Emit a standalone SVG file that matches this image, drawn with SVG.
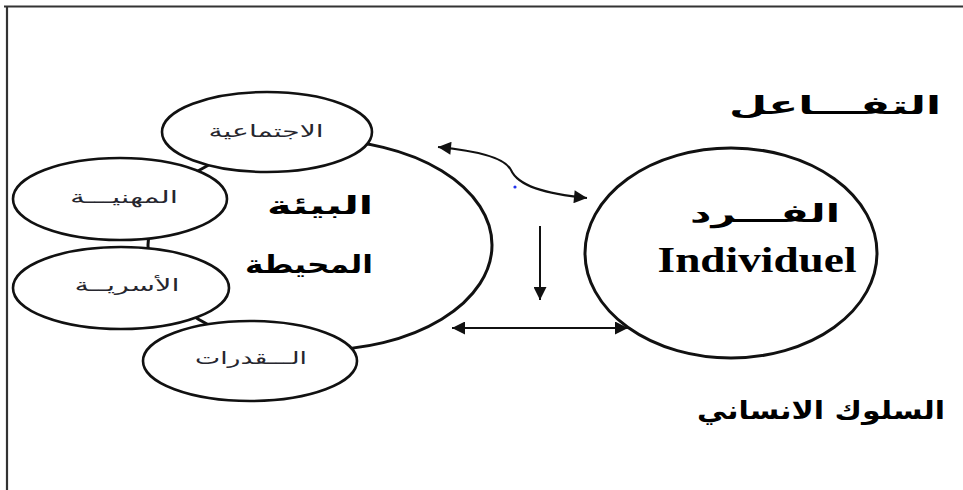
<svg xmlns="http://www.w3.org/2000/svg" width="963" height="490" viewBox="0 0 963 490">
  <style>
    .shape { fill: #fff; stroke: #111; stroke-width: 2.6; }
    .big { fill: none; stroke: #111; stroke-width: 3; }
    .small { font-family: "DejaVu Sans", sans-serif; font-size: 17px; fill: #26262e; text-anchor: middle; }
    .title { font-family: "DejaVu Sans", sans-serif; font-weight: bold; font-size: 25px; fill: #000; text-anchor: middle; }
    .latin { font-family: "Liberation Serif", serif; font-weight: bold; font-size: 36px; fill: #000; text-anchor: middle; }
    .link { fill: none; stroke: #111; stroke-width: 2; }
  </style>
  <defs>
    <marker id="head" viewBox="0 0 10 10" refX="10" refY="5" markerWidth="16" markerHeight="13" markerUnits="userSpaceOnUse" orient="auto-start-reverse">
      <path d="M0,0 L10,5 L0,10 z" fill="#111"/>
    </marker>
  </defs>

  <!-- page frame (top and left rules) -->
  <path d="M4,6.5 H963 M7,6 V490" fill="none" stroke="#333" stroke-width="2.2"/>

  <!-- environment ring -->
  <g id="environment">
    <ellipse class="big" cx="320" cy="245" rx="172" ry="105"/>
    <text class="title" x="320" y="214" textLength="106" lengthAdjust="spacingAndGlyphs">البيئة</text>
    <text class="title" x="309" y="273" textLength="128" lengthAdjust="spacingAndGlyphs">المحيطة</text>
  </g>

  <g id="social">
    <ellipse class="shape" cx="267" cy="132" rx="105" ry="40"/>
    <text class="small" x="266" y="137" textLength="115" lengthAdjust="spacingAndGlyphs">الاجتماعية</text>
  </g>

  <g id="professional">
    <ellipse class="shape" cx="120" cy="199" rx="107" ry="41"/>
    <text class="small" x="124" y="203" textLength="108" lengthAdjust="spacingAndGlyphs">المهنيـــة</text>
  </g>

  <g id="family">
    <ellipse class="shape" cx="121" cy="288" rx="108" ry="41"/>
    <text class="small" x="127" y="291" textLength="105" lengthAdjust="spacingAndGlyphs">الأسريــة</text>
  </g>

  <g id="abilities">
    <ellipse class="shape" cx="250" cy="361" rx="107" ry="40"/>
    <text class="small" x="251" y="364" textLength="112" lengthAdjust="spacingAndGlyphs">الـــقدرات</text>
  </g>

  <g id="individual">
    <ellipse class="big" cx="731" cy="253" rx="146" ry="105" stroke-width="2.6"/>
    <text class="title" x="765" y="222" font-size="27" textLength="150" lengthAdjust="spacingAndGlyphs">الفـــرد</text>
    <text class="latin" x="757" y="272" textLength="199" lengthAdjust="spacingAndGlyphs">Individuel</text>
  </g>

  <g id="interaction">
    <text class="title" x="835" y="114" font-size="23" textLength="212" lengthAdjust="spacingAndGlyphs">التفـــاعل</text>
  </g>

  <g id="behaviour">
    <text class="title" x="821" y="419" font-size="23" textLength="248" lengthAdjust="spacingAndGlyphs">السلوك الانساني</text>
  </g>

  <g id="connectors">
    <path class="link" stroke-width="1.6" d="M438,147 C480,151 505,158 511,170 C518,186 545,194 587,198" marker-start="url(#head)" marker-end="url(#head)"/>
    <circle cx="515" cy="187" r="1.6" fill="#2233ee"/>
    <path class="link" d="M540,226 V300" marker-end="url(#head)"/>
    <path class="link" d="M452,328 H628" marker-start="url(#head)" marker-end="url(#head)"/>
  </g>
</svg>
